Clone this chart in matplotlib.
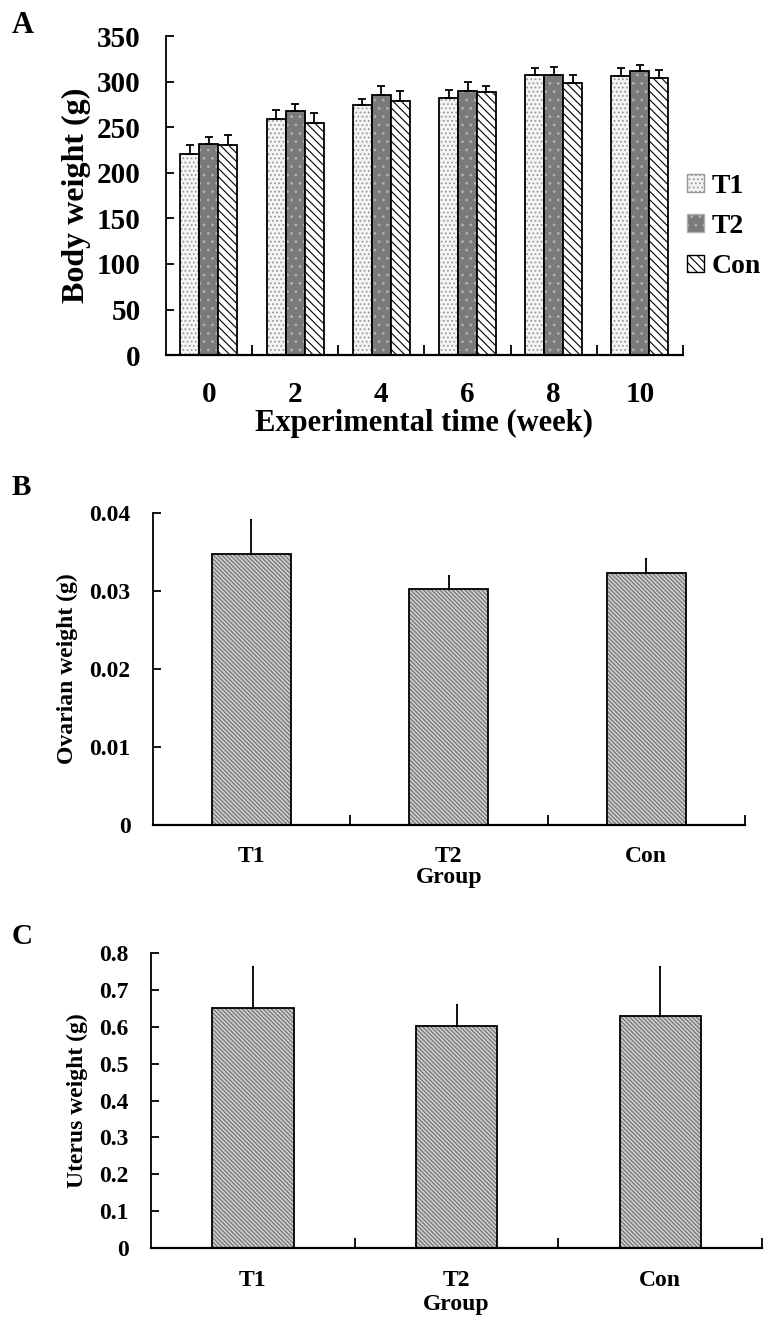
import numpy as np
import matplotlib
matplotlib.use('Agg')
import matplotlib.pyplot as plt
from matplotlib.patches import Patch

plt.rcParams['font.family'] = 'Liberation Serif'
plt.rcParams['font.weight'] = 'bold'
plt.rcParams['axes.labelweight'] = 'bold'
plt.rcParams['hatch.linewidth'] = 0.8

# panel A data
weeks = ['0', '2', '4', '6', '8', '10']
t1_body = [221, 258.5, 274, 281.5, 307, 306]
t1_body_err = [10, 10.5, 7, 9, 8, 9]
t2_body = [231.5, 268, 285.5, 290, 307.5, 311.5]
t2_body_err = [8, 7.5, 9.5, 10, 9, 7]
con_body = [230, 255, 279, 288.5, 298.5, 304.5]
con_body_err = [11, 11, 11, 7, 8.5, 8]

# panels B and C
groups = ['T1', 'T2', 'Con']
ovary = [0.0348, 0.0302, 0.0323]
ovary_err = [0.0043, 0.0017, 0.0018]
uterus = [0.650, 0.603, 0.629]
uterus_err = [0.111, 0.056, 0.132]


def hatched_bar(ax, x, h, w, face, hatch, hcol):
    ax.bar(x, h, w, color=face, edgecolor=hcol, hatch=hatch, linewidth=0)
    ax.bar(x, h, w, fill=False, edgecolor='black', linewidth=1.3)


def style_axes(ax):
    ax.spines['top'].set_visible(False)
    ax.spines['right'].set_visible(False)
    ax.spines['left'].set_linewidth(1.3)
    ax.spines['bottom'].set_linewidth(1.6)
    ax.tick_params(axis='y', direction='in', length=6, width=1.3)
    ax.tick_params(axis='x', which='major', length=0)
    ax.tick_params(axis='x', which='minor', direction='in', length=7, width=1.3)


fig = plt.figure(figsize=(7.64, 13.25), dpi=100)

# ---- A ----
axA = fig.add_axes([0.217, 0.732, 0.677, 0.2408])
x = np.arange(len(weeks))
w = 0.22
hatched_bar(axA, x - w, t1_body, w, '#f4f4f4', '....', '#999999')
hatched_bar(axA, x, t2_body, w, '#7a7a7a', '..', '#b0b0b0')
hatched_bar(axA, x + w, con_body, w, 'white', '\\\\\\\\', 'black')
for off, vals, errs in [(-w, t1_body, t1_body_err), (0, t2_body, t2_body_err), (w, con_body, con_body_err)]:
    axA.errorbar(x + off, vals, yerr=[np.zeros(len(errs)), errs], fmt='none',
                 ecolor='black', elinewidth=1.3, capsize=3, capthick=1.3)
axA.set_xlim(-0.5, 5.5)
axA.set_ylim(0, 350)
axA.set_yticks(np.arange(0, 351, 50))
axA.set_xticks(x)
axA.set_xticklabels(weeks)
axA.set_xticks(np.arange(0.5, 5.6, 1), minor=True)
style_axes(axA)
axA.tick_params(axis='y', labelsize=21, pad=18)
axA.tick_params(axis='x', labelsize=21, pad=19)
axA.set_ylabel('Body weight (g)', fontsize=23, labelpad=4)
axA.set_xlabel('Experimental time (week)', fontsize=22, labelpad=0)

handles = [Patch(facecolor='#f4f4f4', edgecolor='#999999', hatch='....'),
           Patch(facecolor='#7a7a7a', edgecolor='#b0b0b0', hatch='..'),
           Patch(facecolor='white', edgecolor='black', hatch='\\\\\\\\')]
leg = fig.legend(handles, ['T1', 'T2', 'Con'], loc='center left',
                 bbox_to_anchor=(0.899, 0.829), frameon=False, fontsize=20,
                 handlelength=0.6, handleheight=0.6, handletextpad=0.3,
                 labelspacing=0.55, borderaxespad=0, borderpad=0)
for p in leg.get_patches():
    p.set_linewidth(1.0)
fig.text(0.015, 0.981, 'A', fontsize=22, fontweight='bold', va='center')

# ---- B ----
axB = fig.add_axes([0.200, 0.3774, 0.775, 0.2354])
xg = np.arange(len(groups))
hatched_bar(axB, xg, ovary, 0.4, '#cccccc', '\\\\\\\\\\\\\\\\', '#6e6e6e')
axB.errorbar(xg, ovary, yerr=[np.zeros(3), ovary_err], fmt='none',
             ecolor='black', elinewidth=1.3, capsize=1, capthick=1.5)
axB.set_xlim(-0.5, 2.5)
axB.set_ylim(0, 0.04)
axB.set_yticks([0, 0.01, 0.02, 0.03, 0.04])
axB.set_yticklabels(['0', '0.01', '0.02', '0.03', '0.04'])
axB.set_xticks(xg)
axB.set_xticklabels(groups)
axB.set_xticks([0.5, 1.5, 2.5], minor=True)
style_axes(axB)
axB.tick_params(axis='y', labelsize=17, pad=16)
axB.tick_params(axis='x', labelsize=17, pad=15)
axB.set_ylabel('Ovarian weight (g)', fontsize=17, labelpad=8)
axB.set_xlabel('Group', fontsize=17, labelpad=0)
fig.text(0.015, 0.632, 'B', fontsize=21, fontweight='bold', va='center')

# ---- C ----
axC = fig.add_axes([0.1976, 0.0581, 0.8, 0.2226])
hatched_bar(axC, xg, uterus, 0.4, '#cccccc', '\\\\\\\\\\\\\\\\', '#6e6e6e')
axC.errorbar(xg, uterus, yerr=[np.zeros(3), uterus_err], fmt='none',
             ecolor='black', elinewidth=1.3, capsize=1, capthick=1.5)
axC.set_xlim(-0.5, 2.5)
axC.set_ylim(0, 0.8)
axC.set_yticks(np.arange(0, 0.81, 0.1))
axC.set_yticklabels(['0', '0.1', '0.2', '0.3', '0.4', '0.5', '0.6', '0.7', '0.8'])
axC.set_xticks(xg)
axC.set_xticklabels(groups)
axC.set_xticks([0.5, 1.5, 2.5], minor=True)
style_axes(axC)
axC.tick_params(axis='y', labelsize=17, pad=16)
axC.tick_params(axis='x', labelsize=17, pad=16)
axC.set_ylabel('Uterus weight (g)', fontsize=17, labelpad=8)
axC.set_xlabel('Group', fontsize=17, labelpad=2)
fig.text(0.015, 0.293, 'C', fontsize=21, fontweight='bold', va='center')

fig.savefig('out.png', dpi=100)
